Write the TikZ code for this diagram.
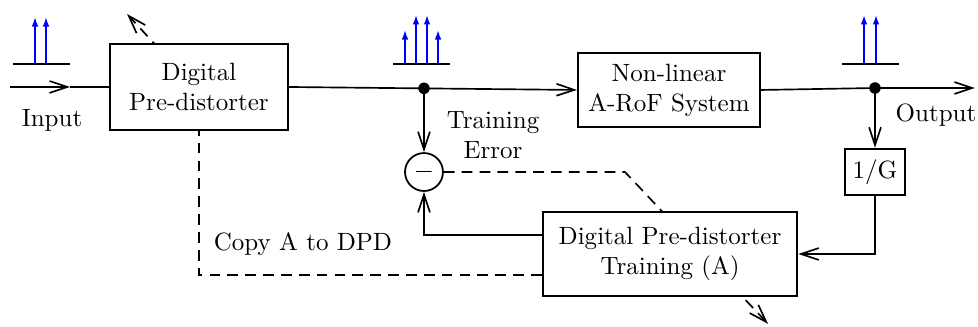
\documentclass[tikz,border=0pt]{standalone}
\usepackage{amsmath, amssymb}
\usepackage{tikz}
\usetikzlibrary{calc, positioning, arrows.meta, backgrounds}

\begin{document}
\begin{tikzpicture}[>={Straight Barb[length=7.5pt,width=5pt]}, line width=0.7pt,
    every node/.style={font=\fontsize{10.5pt}{12.6pt}\selectfont},
    blk/.style={draw, line width=0.75pt, fill=white, align=center, inner sep=2pt},
    jdot/.style={circle, fill, inner sep=0pt, minimum size=0.17cm},
    spec/.style={blue, line width=0.7pt, -{Latex[length=4pt,width=2.8pt]}},
    ctrl/.style={black, line width=0.7pt, dash pattern=on 4.5pt off 3pt}]
          \useasboundingbox (0,0) rectangle (14.435,-4.812);

          % Blocks of the chain
          \node[blk, minimum width=2.63cm, minimum height=1.27cm] (dpd) at (2.937,-1.284) {Digital\\Pre-distorter};
          \node[blk, minimum width=2.69cm, minimum height=1.09cm] (nonlin) at (9.874,-1.328) {Non-linear\\A-RoF System};
          \node[blk, minimum width=0.89cm, minimum height=0.69cm, inner sep=1pt] (gain) at (12.915,-2.539) {1/G};
          \node[blk, minimum width=3.76cm, minimum height=1.25cm] (train) at (9.889,-3.749) {Digital Pre-distorter\\Training (A)};
          \node[blk, circle, minimum size=0.56cm, inner sep=0pt] (sub) at (6.258,-2.539) {$-$};

          % Branch points and free ends
          \node[jdot] (j1) at (6.258,-1.304) {};
          \node[jdot] (j2) at (12.915,-1.299) {};
          \coordinate (in) at (0.148,-1.284);
          \coordinate (inmid) at (1.033,-1.284);
          \coordinate (out) at (14.39,-1.299);
          \coordinate (bend) at (9.225,-2.539);
          \coordinate (adjA) at (11.336,-4.78);
          \coordinate (adjDs) at (3.25,-1.70);
          \coordinate (adjD) at (1.875,-0.207);

          % Signal path
          \draw[->] (in) -- (inmid);
          \draw (inmid) -- (dpd.west);
          \draw[->] (dpd.east) -- (nonlin.west);
          \draw[->] (nonlin.east) -- (j2.center) -- (out);
          \draw[->] (j1.center) -- (sub.north);
          \draw[->] (j2.center) -- (gain.north);
          \draw[->] (gain.south) |- (train.east);
          \draw[->] ([yshift=0.28cm]train.west) -| (sub.south);

          % Adaptation (dashed), passing behind the blocks
          \begin{scope}[on background layer]
            \draw[ctrl, ->] (sub.east) -- (bend) -- (adjA);
            \draw[ctrl] ([yshift=-0.31cm]train.west) -| (dpd.south);
            \draw[ctrl, ->] (adjDs) -- (adjD);
          \end{scope}

          % Spectra above the signal path
          \draw (0.192,-0.945) -- (1.033,-0.945);
          \foreach \x in {0.517, 0.679}
            \draw[spec] (\x,-0.945) -- (\x,-0.251);
          \draw (5.801,-0.945) -- (6.642,-0.945);
          \foreach \x/\t in {5.978/-0.443, 6.140/-0.221, 6.303/-0.221, 6.465/-0.443}
            \draw[spec] (\x,-0.945) -- (\x,\t);
          \draw (12.428,-0.945) -- (13.269,-0.945);
          \foreach \x in {12.753, 12.930}
            \draw[spec] (\x,-0.945) -- (\x,-0.221);

          % Labels
          \node (lin) at (0.768,-1.771) {Input};
          \node (lout) at (13.815,-1.697) {Output};
          \node[align=center] (lerr) at (7.277,-1.993) {Training\\Error};
          \node (lcopy) at (4.472,-3.601) {Copy A to DPD};
        \end{tikzpicture}
\end{document}
